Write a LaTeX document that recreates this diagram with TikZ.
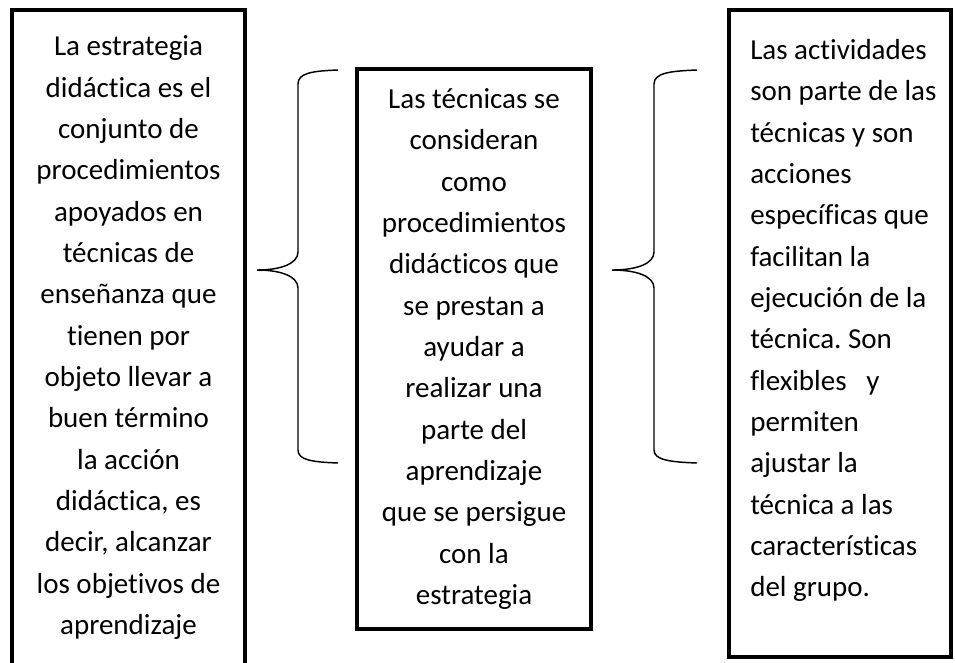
\documentclass[tikz,border=0pt]{standalone}
\usepackage{fontspec}
\setmainfont{Carlito}[Ligatures=NoCommon]
\frenchspacing
\usepackage{tikz}
\usetikzlibrary{positioning, calc}
\tikzstyle{framebox} = [draw, rectangle, line width=3pt,
inner sep=0pt]
\tikzstyle{bodytext} = [font=\fontsize{21.75}{31}\selectfont,
inner sep=0pt]
\tikzstyle{bracket} = [line width=1.1pt]

\begin{document}
\begin{tikzpicture}[x=0.75pt, y=-0.75pt]
	\useasboundingbox (0,0) rectangle (955,662);
	\clip (0,0) rectangle (955,662);
	\coordinate (a) at (128.5, 337.5);
	\coordinate (b) at (474, 349);
	\coordinate (c) at (840, 333.5);
	\node[framebox, bodytext, minimum width=174.75pt, minimum height=491.25pt,
		align=center](strategy) at (a) {La estrategia\\
		didáctica es el\\
		conjunto de\\
		procedimientos\\
		apoyados en\\
		técnicas de\\
		enseñanza que\\
		tienen por\\
		objeto llevar a\\
		buen término\\
		la acción\\
		didáctica, es\\
		decir, alcanzar\\
		los objetivos de\\
		aprendizaje};
	\node[framebox, bodytext, minimum width=175.5pt, minimum height=420pt,
		align=center](technique) at (b) {Las técnicas se\\
		consideran\\
		como\\
		procedimientos\\
		didácticos que\\
		se prestan a\\
		ayudar a\\
		realizar una\\
		parte del\\
		aprendizaje\\
		que se persigue\\
		con la\\
		estrategia};
	\node[framebox, minimum width=166.5pt, minimum height=485.25pt](activity) at (c) {};
	\node[bodytext, align=left, anchor=west](textActivity)
		at ([xshift=17.25pt, yshift=9.75pt]activity.west) {Las actividades\\
		son parte de las\\
		técnicas y son\\
		acciones\\
		específicas que\\
		facilitan la\\
		ejecución de la\\
		técnica. Son\\
		flexibles~~~y\\
		permiten\\
		ajustar la\\
		técnica a las\\
		características\\
		del grupo.};
	%% Braces between the boxes
	\coordinate (braceTop1) at (338, 70);
	\coordinate (braceTip1) at (257, 270);
	\coordinate (braceBot1) at (338, 463);
	\coordinate (braceTop2) at (697, 70);
	\coordinate (braceTip2) at (612, 270);
	\coordinate (braceBot2) at (697, 463);
	\draw[bracket] (braceTop1) .. controls (312, 71) and (298, 73) .. (298, 84)
		-- (298, 252) .. controls (298, 264) and (280, 270) .. (braceTip1)
		.. controls (280, 270) and (298, 276) .. (298, 288)
		-- (298, 450) .. controls (298, 460) and (312, 462) .. (braceBot1);
	\draw[bracket] (braceTop2) .. controls (670, 71) and (654, 73) .. (654, 84)
		-- (654, 252) .. controls (654, 264) and (636, 270) .. (braceTip2)
		.. controls (636, 270) and (654, 276) .. (654, 288)
		-- (654, 450) .. controls (654, 460) and (670, 462) .. (braceBot2);
\end{tikzpicture}
\end{document}
